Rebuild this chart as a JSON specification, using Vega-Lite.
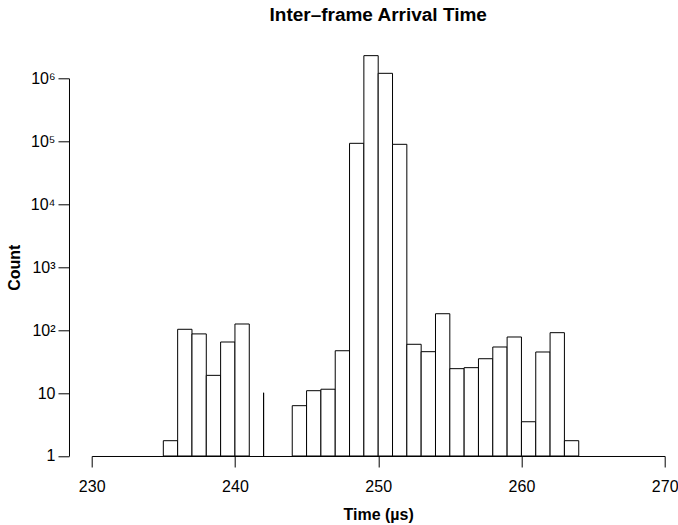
{
  "$schema": "https://vega.github.io/schema/vega-lite/v6.json",
  "width": 573,
  "height": 402.7,
  "autosize": {"type": "none"},
  "padding": {"left": 91.7, "top": 53.3, "right": 13, "bottom": 69},
  "background": "white",
  "title": {
    "text": "Inter–frame Arrival Time",
    "font": "Liberation Sans",
    "fontSize": 19,
    "fontWeight": "bold",
    "color": "black",
    "anchor": "middle",
    "offset": 28
  },
  "config": {
    "view": {"stroke": null},
    "axis": {
      "labelFont": "Liberation Sans",
      "titleFont": "Liberation Sans",
      "labelFontSize": 16,
      "titleFontSize": 16,
      "titleFontWeight": "bold",
      "labelColor": "black",
      "titleColor": "black",
      "domainColor": "black",
      "tickColor": "black",
      "tickSize": 11,
      "grid": false
    }
  },
  "data": {
    "values": [
      {"start": 235, "end": 236, "count": 1.75},
      {"start": 236, "end": 237, "count": 103},
      {"start": 237, "end": 238, "count": 87},
      {"start": 238, "end": 239, "count": 19.1},
      {"start": 239, "end": 240, "count": 64.7},
      {"start": 240, "end": 241, "count": 125},
      {"start": 242, "end": 242, "count": 10.1},
      {"start": 244, "end": 245, "count": 6.3},
      {"start": 245, "end": 246, "count": 10.9},
      {"start": 246, "end": 247, "count": 11.5},
      {"start": 247, "end": 248, "count": 47},
      {"start": 248, "end": 249, "count": 92700},
      {"start": 249, "end": 250, "count": 2290000},
      {"start": 250, "end": 251, "count": 1200000},
      {"start": 251, "end": 252, "count": 89400},
      {"start": 252, "end": 253, "count": 59.5},
      {"start": 253, "end": 254, "count": 45.4},
      {"start": 254, "end": 255, "count": 182},
      {"start": 255, "end": 256, "count": 24.4},
      {"start": 256, "end": 257, "count": 25.3},
      {"start": 257, "end": 258, "count": 35.1},
      {"start": 258, "end": 259, "count": 53.9},
      {"start": 259, "end": 260, "count": 77.7},
      {"start": 260, "end": 261, "count": 3.5},
      {"start": 261, "end": 262, "count": 44.9},
      {"start": 262, "end": 263, "count": 91},
      {"start": 263, "end": 264, "count": 1.75}
    ]
  },
  "mark": {"type": "bar", "fill": "white", "stroke": "black", "strokeWidth": 1, "clip": false},
  "encoding": {
    "x": {
      "field": "start",
      "type": "quantitative",
      "scale": {"domain": [230, 270], "nice": false, "zero": false},
      "axis": {
        "values": [230, 240, 250, 260, 270],
        "title": "Time (µs)",
        "labelFlush": false,
        "labelPadding": 12,
        "titlePadding": 12
      }
    },
    "x2": {"field": "end"},
    "y": {
      "field": "count",
      "type": "quantitative",
      "scale": {"type": "log", "domain": [1, 1000000], "range": [402.7, 25], "nice": false},
      "axis": {
        "values": [1, 10, 100, 1000, 10000, 100000, 1000000],
        "labelExpr": "datum.value == 1 ? '1' : datum.value == 10 ? '10' : datum.value == 100 ? '10²' : datum.value == 1000 ? '10³' : datum.value == 10000 ? '10⁴' : datum.value == 100000 ? '10⁵' : '10⁶'",
        "title": "Count",
        "offset": 22.7,
        "labelPadding": 3,
        "titlePadding": 8
      }
    },
    "y2": {"datum": 1}
  }
}
